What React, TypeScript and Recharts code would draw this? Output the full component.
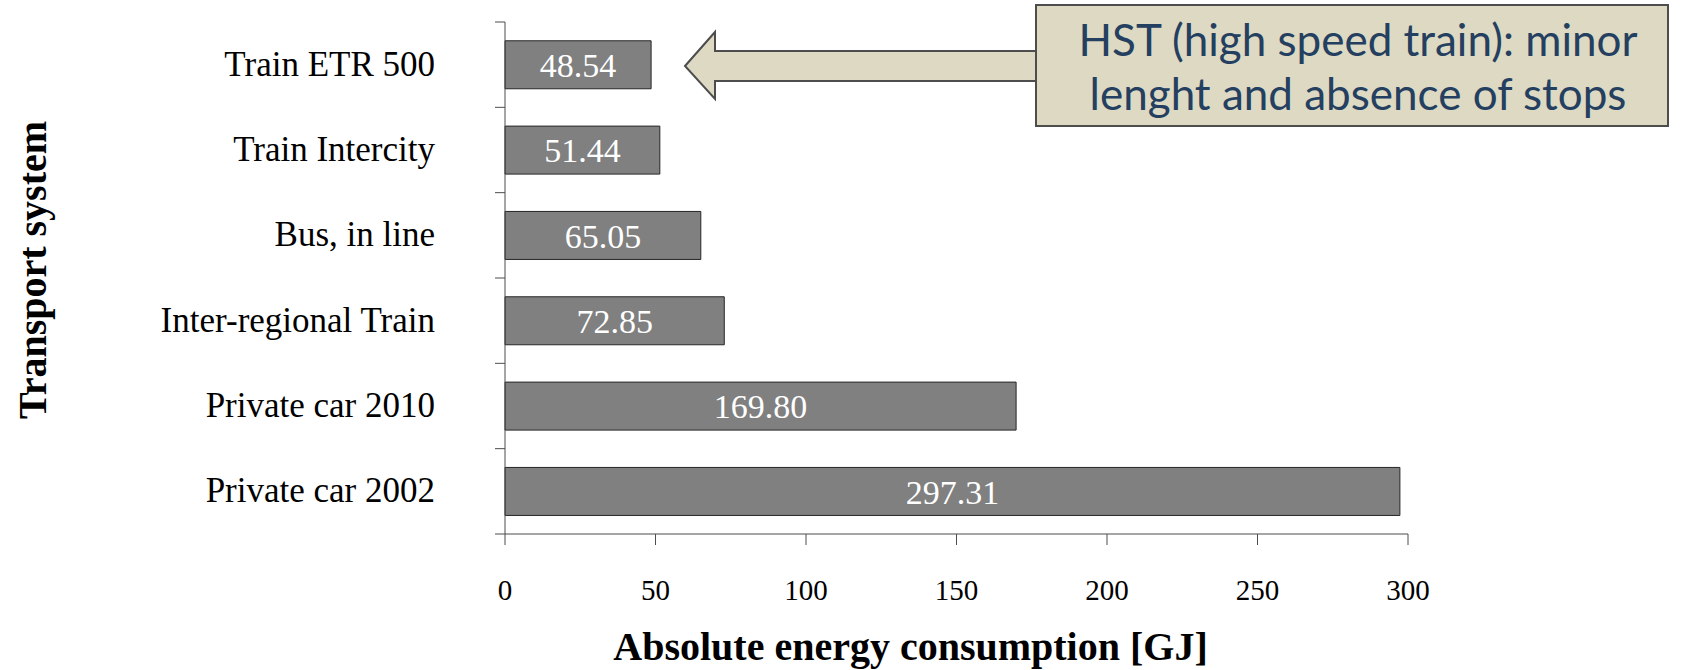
import { Bar, BarChart, LabelList, XAxis, YAxis } from "recharts";

const categories = [
  "Train ETR 500",
  "Train Intercity",
  "Bus, in line",
  "Inter-regional Train",
  "Private car 2010",
  "Private car 2002",
];
const energyGJ = [48.54, 51.44, 65.05, 72.85, 169.8, 297.31];
const xTicks = [0, 50, 100, 150, 200, 250, 300];

const W = 1693;
const H = 670;
const TOP = 22;
const XAXIS_H = 136;
const BAND = (H - TOP - XAXIS_H) / categories.length;
const SERIF = "'Liberation Serif', 'Times New Roman', serif";
const AXIS = "#4d4d4d";

const rows = categories.map((name, i) => ({ name, value: energyGJ[i] }));

function YTick(props: any) {
  const { x, y, payload, index } = props;
  const last = index === categories.length - 1;
  return (
    <g>
      <line x1={x} x2={x + 10} y1={y - BAND / 2} y2={y - BAND / 2} stroke={AXIS} />
      {last && (
        <line x1={x} x2={x + 10} y1={y + BAND / 2} y2={y + BAND / 2} stroke={AXIS} />
      )}
      <text
        x={x - 60}
        y={y}
        dy={11}
        textAnchor="end"
        fontFamily={SERIF}
        fontSize={35}
        fill="#000"
      >
        {payload.value}
      </text>
    </g>
  );
}

function XTick(props: any) {
  const { x, y, payload } = props;
  return (
    <text x={x} y={y} dy={53} textAnchor="middle" fontFamily={SERIF} fontSize={29} fill="#000">
      {payload.value}
    </text>
  );
}

// rotated y-axis title, placed at the far left like the original slide
function YTitle() {
  return (
    <text
      transform="translate(46, 270) rotate(-90)"
      textAnchor="middle"
      fontFamily={SERIF}
      fontSize={40}
      fontWeight="bold"
      fill="#000"
    >
      Transport system
    </text>
  );
}

export default function App() {
  return (
    <div style={{ position: "absolute", left: 0, top: 0, width: W, height: H, background: "#fff" }}>
      <BarChart
        width={W}
        height={H}
        data={rows}
        layout="vertical"
        margin={{ top: TOP, right: 285, bottom: 0, left: 0 }}
        barCategoryGap="22%"
      >
        <XAxis
          type="number"
          domain={[0, 300]}
          ticks={xTicks}
          height={XAXIS_H}
          stroke={AXIS}
          tickSize={11}
          tick={<XTick />}
          label={{
            value: "Absolute energy consumption [GJ]",
            position: "insideBottom",
            offset: 10,
            dx: -46,
            fill: "#000",
            fontFamily: SERIF,
            fontSize: 40,
            fontWeight: "bold",
          }}
        />
        <YAxis
          type="category"
          dataKey="name"
          width={505}
          stroke={AXIS}
          tickLine={false}
          tickSize={10}
          tickMargin={0}
          tick={<YTick />}
          label={{ content: () => <YTitle /> }}
        />
        <Bar dataKey="value" fill="#808080" stroke="#262626" strokeWidth={1} isAnimationActive={false}>
          <LabelList
            dataKey="value"
            position="center"
            fill="#fff"
            fontFamily={SERIF}
            fontSize={34}
            formatter={(v: any) => Number(v).toFixed(2)}
          />
        </Bar>
      </BarChart>
      <svg
        width={W}
        height={H}
        style={{ position: "absolute", left: 0, top: 0, pointerEvents: "none" }}
      >
        <polygon
          points="685,66 715,32 715,51 1040,51 1040,81 715,81 715,99"
          fill="#ddd9c3"
          stroke="#4d4d4d"
          strokeWidth={2}
        />
        <rect x={1036} y={5} width={632} height={121} fill="#ddd9c3" stroke="#4d4d4d" strokeWidth={2} />
        <text
          x={1358}
          textAnchor="middle"
          fontFamily="Lato, 'Open Sans', sans-serif"
          fontSize={44}
          fill="#243f60"
        >
          <tspan x={1358} y={56}>HST (high speed train): minor</tspan>
          <tspan x={1358} y={110}>lenght and absence of stops</tspan>
        </text>
      </svg>
    </div>
  );
}
